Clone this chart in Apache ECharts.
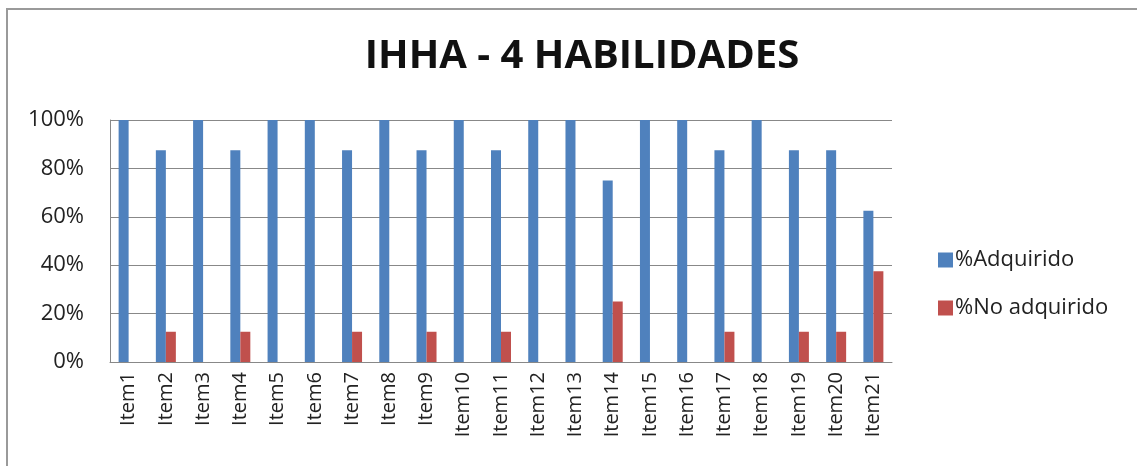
<!DOCTYPE html>
<html>
<head>
<meta charset="utf-8">
<script src="https://cdn.jsdelivr.net/npm/echarts@6/dist/echarts.min.js"></script>
<style>
html,body{margin:0;padding:0;background:#fff;}
#chart{width:1137px;height:466px;}
</style>
</head>
<body>
<div id="chart"></div>
<script>
var categories=["Item1","Item2","Item3","Item4","Item5","Item6","Item7","Item8","Item9","Item10","Item11","Item12","Item13","Item14","Item15","Item16","Item17","Item18","Item19","Item20","Item21"];
var adquirido=[100,87.5,100,87.5,100,100,87.5,100,87.5,100,87.5,100,100,75,100,100,87.5,100,87.5,87.5,62.5];
var noAdquirido=[0,12.5,0,12.5,0,0,12.5,0,12.5,0,12.5,0,0,25,0,0,12.5,0,12.5,12.5,37.5];
var yTicks=[0,20,40,60,80,100];

var chart=echarts.init(document.getElementById('chart'));
var option={
	animation:false,
	backgroundColor:'#fff',
	graphic:[{
		type:'rect',
		shape:{x:7,y:9,width:1200,height:500},
		style:{fill:'none',stroke:'#9a9a9a',lineWidth:2},
		silent:true
	}],
	title:{
		text:'IHHA - 4 HABILIDADES',
		left:577,
		top:32,
		textAlign:'center',
		textStyle:{fontFamily:'Open Sans',fontWeight:'bold',fontSize:40,color:'#111'}
	},
	legend:{
		orient:'vertical',
		left:933,
		top:244,
		itemWidth:15,
		itemHeight:15,
		itemGap:26,
		icon:'rect',
		textStyle:{fontFamily:'Open Sans',fontSize:22,color:'#222',padding:[0,0,0,-3]},
		data:['%Adquirido','%No adquirido']
	},
	grid:{left:110,top:120,right:245,bottom:104},
	xAxis:{
		type:'category',
		data:categories,
		axisLine:{lineStyle:{color:'#888'}},
		axisTick:{show:false},
		axisLabel:{rotate:90,interval:0,fontFamily:'Open Sans',fontSize:20,color:'#222',margin:10}
	},
	yAxis:{
		type:'value',
		min:0,max:100,interval:20,
		axisLine:{show:true,lineStyle:{color:'#888'}},
		axisTick:{show:false},
		splitLine:{lineStyle:{color:'#888'}},
		axisLabel:{
			fontFamily:'Open Sans',fontSize:22,color:'#222',margin:26,
			formatter:function(v){return yTicks.indexOf(v)>=0?v+'%':'';}
		}
	},
	series:[
		{name:'%Adquirido',type:'bar',data:adquirido,barWidth:10,barGap:'0%',itemStyle:{color:'#4F81BD'}},
		{name:'%No adquirido',type:'bar',data:noAdquirido,barWidth:10,itemStyle:{color:'#C0504D'}}
	]
};
chart.setOption(option);
</script>
</body>
</html>
